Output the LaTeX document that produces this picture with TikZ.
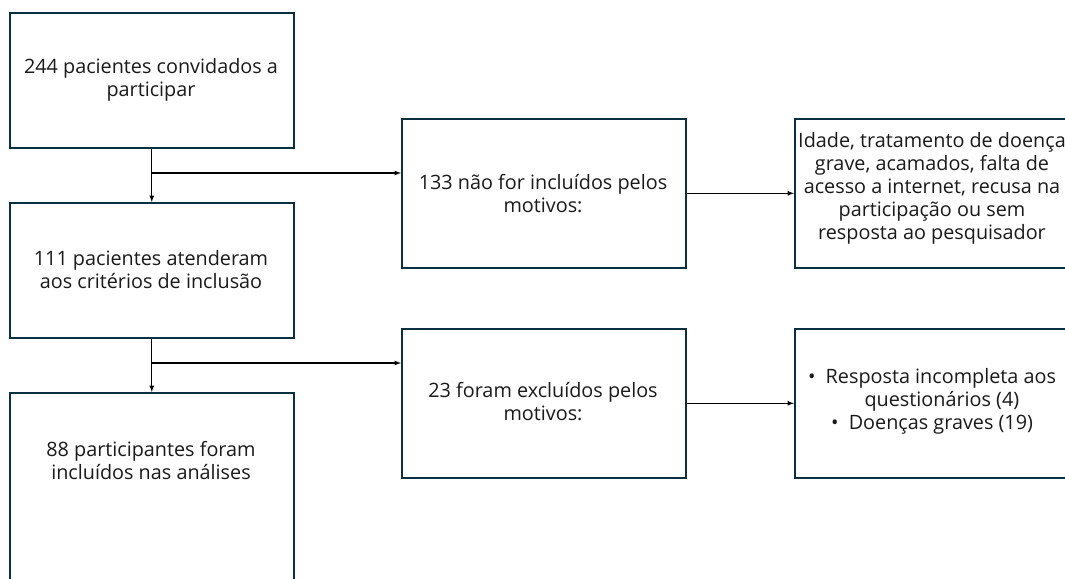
\documentclass[tikz,border=0pt]{standalone}
\usepackage{fontspec}
\setmainfont{Open Sans}
\usepackage{tikz}
\definecolor{boxnavy}{HTML}{0A2F40}
\definecolor{textgrey}{HTML}{1A1A1A}

\begin{document}
\begin{tikzpicture}[x=1pt,y=-1pt,
    box/.style={draw=boxnavy,line width=1.6pt,fill=white,minimum width=284pt,minimum height=135pt,anchor=north west},
    txt/.style={align=center,text=textgrey,font=\fontsize{19.8}{23}\selectfont},
    arr/.style={-latex,line width=1.2pt,black}
]
\path[use as bounding box,clip] (0,0) rectangle (1065,578);

\node[box] (invited) at (9,12) {};
\node[box] (included) at (9,202) {};
\node[box,minimum height=230pt] (analysed) at (9,392) {};
\node[box,minimum height=149pt] (notincl) at (401,118) {};
\node[box,minimum height=149pt] (excluded) at (401,328) {};
\node[box,minimum width=276pt,minimum height=149pt] (reasonsA) at (794,118) {};
\node[box,minimum width=276pt,minimum height=149pt] (reasonsB) at (794,328) {};

\node[txt] (invitedtxt) at (151,79.5) {244 pacientes convidados a\\participar};
\node[txt] (includedtxt) at (151,270) {111 pacientes atenderam\\aos crit\'erios de inclus\~ao};
\node[txt] (analysedtxt) at (151,461) {88 participantes foram\\inclu\'idos nas an\'alises};
\node[txt] (notincltxt) at (543,194) {133 n\~ao for inclu\'idos pelos\\motivos:};
\node[txt] (excludedtxt) at (543,402) {23 foram exclu\'idos pelos\\motivos:};
\node[txt] (reasonsAtxt) at (932,188) {Idade, tratamento de doen\c{c}a\\grave, acamados, falta de\\acesso a internet, recusa na\\participa\c{c}\~ao ou sem\\resposta ao pesquisador};
\node[txt] (reasonsBtxt) at (932,401) {\textbullet\ \ Resposta incompleta aos\\\quad questi\-on\'arios (4)\\\textbullet\ \ Doen\c{c}as graves (19)};

\coordinate (branchA) at (151,173);
\coordinate (branchB) at (151,363);

\draw[arr] (invited) -- (included);
\draw[arr] (included) -- (analysed);
\draw[arr] (branchA) -- (branchA -| notincl.west);
\draw[arr] (branchB) -- (branchB -| excluded.west);
\draw[arr] (notincl) -- (reasonsA);
\draw[arr] (excluded) -- (reasonsB);
\end{tikzpicture}
\end{document}
